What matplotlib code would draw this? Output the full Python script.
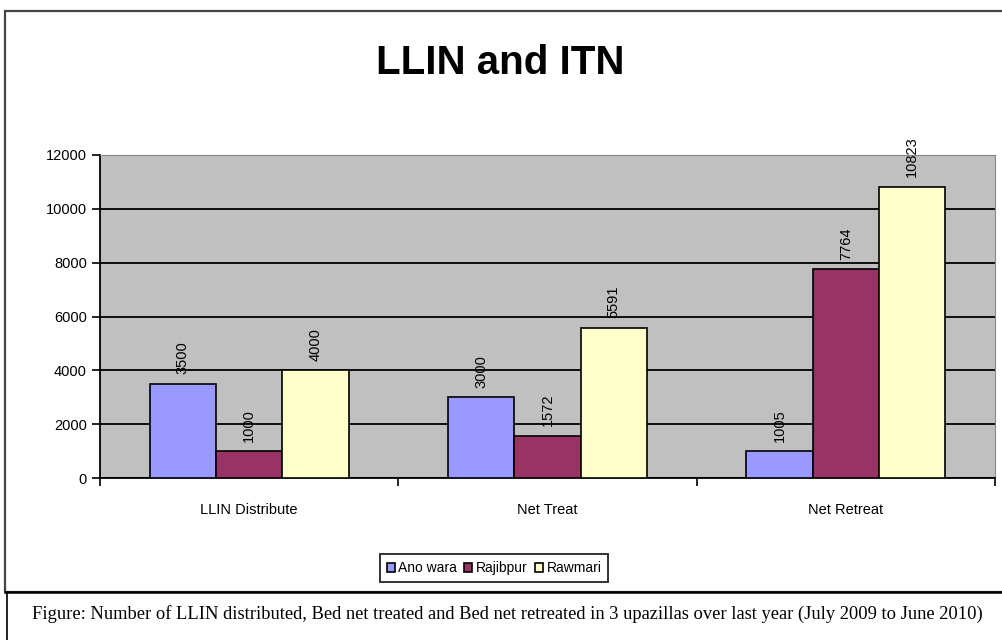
import matplotlib
matplotlib.use("Agg")
import matplotlib.pyplot as plt
from matplotlib.patches import Rectangle
from matplotlib.lines import Line2D
import numpy as np

categories = ["LLIN Distribute", "Net Treat", "Net Retreat"]
series_names = ["Ano wara", "Rajibpur", "Rawmari"]
anowara = [3500, 3000, 1005]
rajibpur = [1000, 1572, 7764]
rawmari = [4000, 5591, 10823]
colors = ["#9999FF", "#993366", "#FFFFCC"]

W, H = 1002, 640
fig = plt.figure(figsize=(W / 100, H / 100), dpi=100)

# outer chart frame and caption box
fig.add_artist(Rectangle((5 / W, 1 - 592 / H), 1.2, (592 - 11) / H, transform=fig.transFigure,
                         fill=False, edgecolor="#444444", linewidth=1.6))
fig.add_artist(Line2D([7 / W, 7 / W], [0, 1 - 592 / H], transform=fig.transFigure,
                      color="black", linewidth=1.2))
fig.add_artist(Line2D([5 / W, 1], [1 - 592 / H, 1 - 592 / H], transform=fig.transFigure,
                      color="black", linewidth=1.8))

ax = fig.add_axes([100 / W, 1 - 478 / H, (995 - 100) / W, (478 - 155) / H])
ax.set_facecolor("#C0C0C0")

x = np.arange(len(categories))
bw = 0.222
for i, (vals, c, name) in enumerate(zip([anowara, rajibpur, rawmari], colors, series_names)):
    pos = x + (i - 1) * bw
    ax.bar(pos, vals, width=bw, color=c, edgecolor="black", linewidth=1.2, label=name, zorder=3)
    for p, v in zip(pos, vals):
        ax.text(p, v + 350, str(v), rotation=90, ha="center", va="bottom",
                fontsize=10.5, family="Liberation Sans", zorder=4, clip_on=False)

ax.set_xlim(-0.5, 2.5)
ax.set_ylim(0, 12000)
ax.set_yticks(range(0, 12001, 2000))
ax.yaxis.grid(True, color="black", linewidth=1.3, zorder=0)
ax.set_axisbelow(True)
ax.set_xticks([-0.5, 0.5, 1.5, 2.5])
ax.set_xticklabels([])
ax.set_xticks(x, minor=True)
ax.set_xticklabels(categories, minor=True, fontsize=10.5, family="Liberation Sans")
ax.tick_params(axis="x", which="minor", length=0, pad=18)
ax.tick_params(axis="x", which="major", length=6, width=1.2, direction="out")
ax.tick_params(axis="y", length=6, width=1.2, direction="out", labelsize=10.5)
for lbl in ax.get_yticklabels():
    lbl.set_family("Liberation Sans")
for s in ["top", "right"]:
    ax.spines[s].set_color("#888888")
for s in ["left", "bottom"]:
    ax.spines[s].set_linewidth(1.3)

fig.text(500 / W, 1 - 63 / H, "LLIN and ITN", ha="center", va="center", fontsize=29,
         fontweight="bold", family="Liberation Sans")

leg = fig.legend(loc="center", ncol=3,
                 frameon=True, fancybox=False, edgecolor="black",
                 handlelength=0.6, handleheight=0.6, handletextpad=0.25, columnspacing=0.5,
                 borderpad=0.5, borderaxespad=0, prop={"family": "Liberation Sans", "size": 10})
leg.get_frame().set_linewidth(1.4)
leg.set_bbox_to_anchor((494 / W, 1 - 568 / H), transform=fig.transFigure)

fig.text(32 / W, 1 - 614 / H, "Figure: Number of LLIN distributed, Bed net treated and Bed net retreated "
         "in 3 upazillas over last year (July 2009 to June 2010)",
         ha="left", va="center", fontsize=13.3, family="Liberation Serif")

fig.savefig("out.png", dpi=100)
